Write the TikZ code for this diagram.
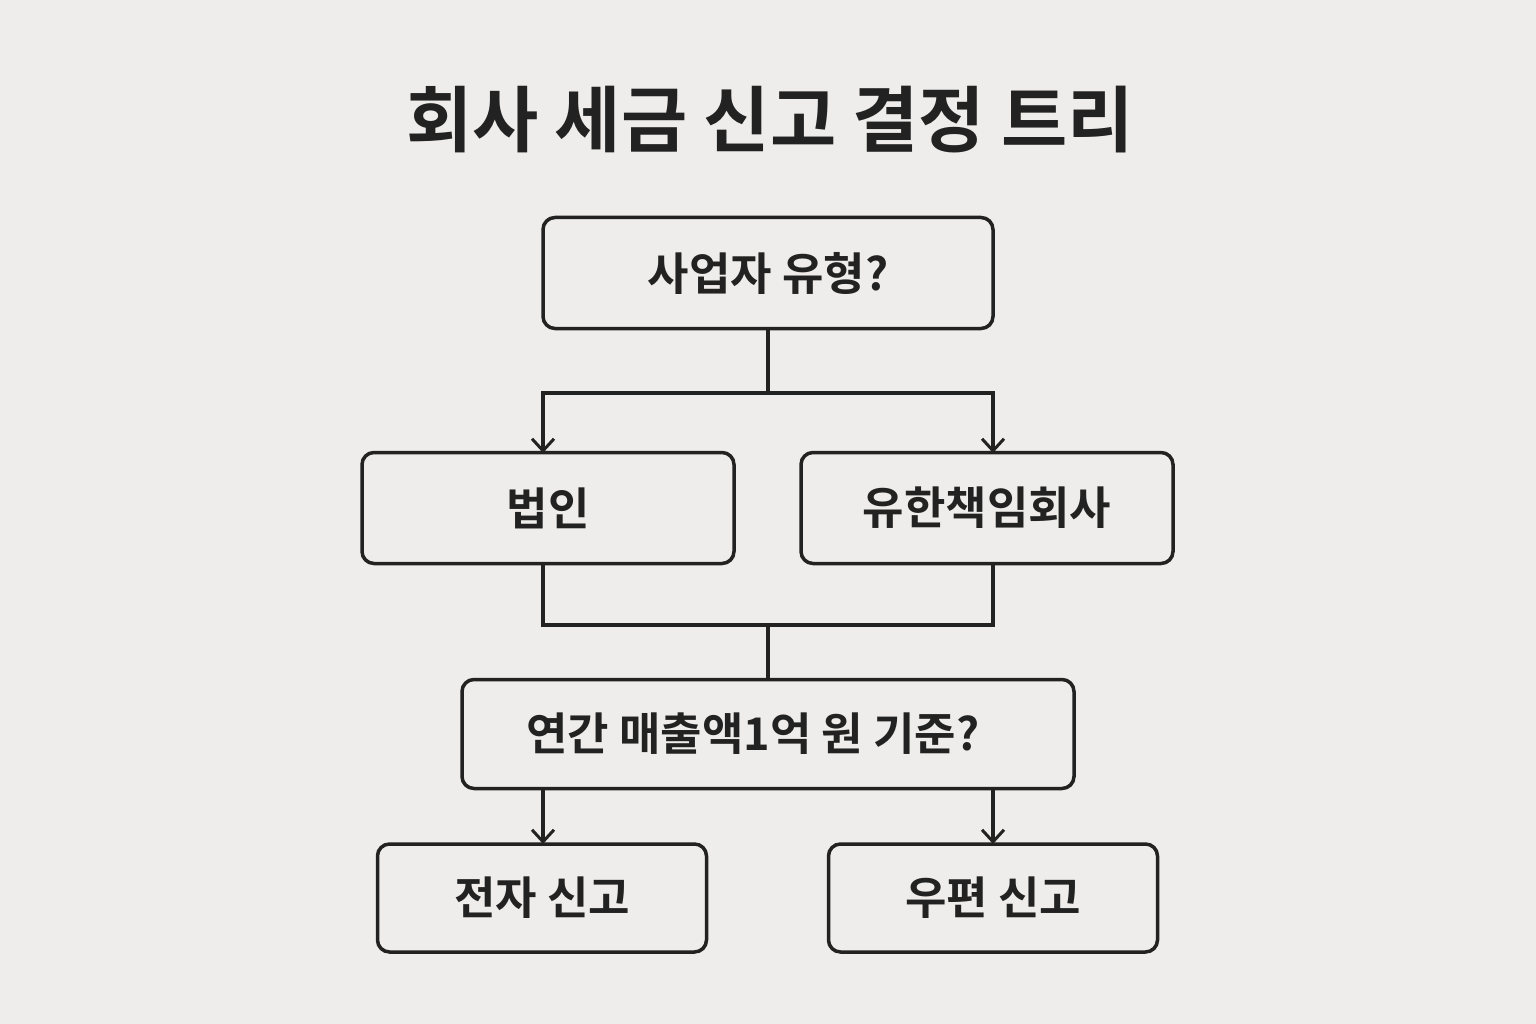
\documentclass[tikz,border=0pt]{standalone}
\usepackage{fontspec}
\newfontfamily\kr{Noto Sans CJK KR}
\newfontfamily\krb{Noto Sans CJK KR Bold}
\usetikzlibrary{arrows.meta}
\definecolor{bg}{HTML}{EEEDEB}
\definecolor{ink}{HTML}{222222}
\tikzset{
  box/.style={draw=ink,line width=3.5pt,rounded corners=12pt,inner sep=0pt,font=\krb\fontsize{45}{50}\selectfont,text=ink},
  conn/.style={draw=ink,line width=3.5pt},
  arr/.style={conn,-{Straight Barb[length=12pt,width=22pt,line width=3pt]}}
}
\begin{document}
\begin{tikzpicture}[x=1pt,y=-1pt]
\fill[bg] (0,0) rectangle (1536,1024);
\useasboundingbox (0,0) rectangle (1536,1024);
\node[font=\krb\fontsize{72}{78}\selectfont,text=ink] (title) at (770,120) {회사 세금 신고 결정 트리};
\node[box,minimum width=450pt,minimum height=111pt] (q1) at (768,273) {사업자 유형?};
\node[box,minimum width=372pt,minimum height=111pt] (a) at (548,508) {법인};
\node[box,minimum width=372pt,minimum height=111pt] (b) at (987,508) {유한책임회사};
\node[box,minimum width=612pt,minimum height=109pt] (q2) at (768,734) {};
\node[font=\krb\fontsize{45}{50}\selectfont,text=ink] (q2t) at (753,734) {연간 매출액1억 원 기준?};
\node[box,minimum width=329pt,minimum height=108pt] (c) at (542,898) {전자 신고};
\node[box,minimum width=329pt,minimum height=108pt] (d) at (993,898) {우편 신고};
\coordinate (s1) at (768,393);
\coordinate (s2) at (768,625);
\draw[conn] (q1.south) -- (s1);
\draw[arr] (s1) -| (543,453);
\draw[arr] (s1) -| (993,453);
\draw[conn] (543,564) |- (s2) -| (993,564);
\draw[conn] (s2) -- (q2.north);
\draw[arr] (543,789) -- (543,844);
\draw[arr] (993,789) -- (993,844);
\end{tikzpicture}
\end{document}
